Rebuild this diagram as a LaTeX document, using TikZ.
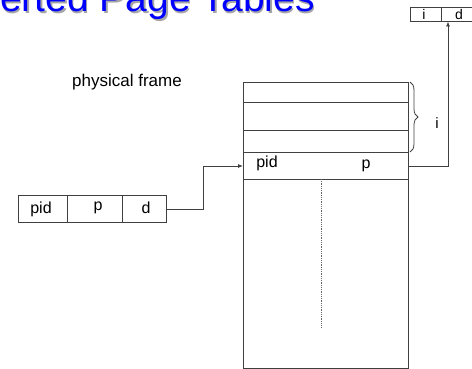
\documentclass[tikz,border=0pt]{standalone}
\usepackage{fontspec}
\setmainfont{Liberation Sans}
\usetikzlibrary{decorations.pathreplacing,arrows.meta}
\begin{document}
\begin{tikzpicture}[x=1pt,y=-1pt,
  ln/.style={draw=black!75,line width=0.8pt},
  lbl/.style={inner sep=0pt,font=\fontsize{16}{16}\selectfont},
  arr/.style={ln,-{Latex[length=5pt,width=4pt]}}]
\useasboundingbox (0,0) rectangle (472,369);
% title with shadow
\node[anchor=base west,inner sep=0pt,text=black!35,font=\fontsize{39}{39}\selectfont] (tshadow) at (1.5,13.5) {erted Page Tables};
\node[anchor=base west,inner sep=0pt,text=blue,font=\fontsize{39}{39}\selectfont] (title) at (0,12) {erted Page Tables};
\node[anchor=base east,inner sep=0pt,font=\fontsize{17}{17}\selectfont] (pf) at (182,87) {physical frame};
% top right box
\draw[ln] (410,7.5) rectangle (474,21.5);
\draw[ln] (441,7.5) -- (441,21.5);
\node[lbl,font=\fontsize{14}{14}\selectfont] (ti) at (424,14.5) {i};
\node[lbl,font=\fontsize{14}{14}\selectfont] (td) at (459,14.5) {d};
\coordinate (tin) at (448,21.5);
% table
\draw[ln] (243,82) rectangle (408,368);
\foreach \yy in {102,130,152,179} \draw[ln] (243,\yy) -- (408,\yy);
\coordinate (rowL) at (243,166);
\coordinate (rowR) at (408,166);
\node[lbl] (rpid) at (267,163) {pid};
\node[lbl] (rp) at (366,166) {p};
\draw[black!60,line width=0.8pt,densely dotted] (321,179) -- (321,328);
\draw[ln,decorate,decoration={brace,amplitude=8pt}] (410,82) -- (410,152);
\node[lbl,font=\fontsize{15}{15}\selectfont] (bi) at (437,123) {i};
% logical address
\draw[ln] (18,195) rectangle (166,222);
\draw[ln] (67,195) -- (67,222);
\draw[ln] (122,195) -- (122,222);
\node[lbl] (lpid) at (41,209) {pid};
\node[lbl] (lp) at (98,207.5) {p};
\node[lbl] (ld) at (146,207.5) {d};
\coordinate (lout) at (166,209);
% connectors
\draw[arr] (lout) -- (203,209) -- (203,166) -- (rowL);
\draw[arr] (rowR) -- (448,166) -- (tin);
\end{tikzpicture}
\end{document}
